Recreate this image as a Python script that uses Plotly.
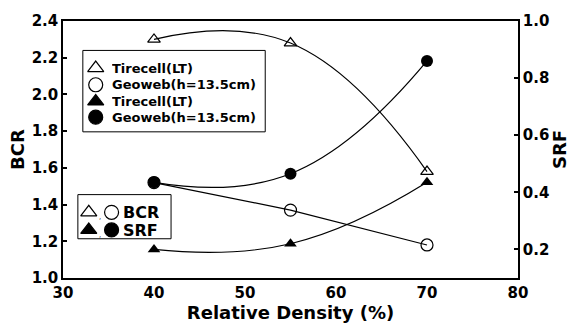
import plotly.graph_objects as go

density = [40, 55, 70]
bcr_tirecell = [2.30, 2.28, 1.58]
bcr_geoweb = [1.52, 1.37, 1.18]
srf_tirecell = [0.20, 0.22, 0.435]
srf_geoweb = [0.435, 0.465, 0.86]

x_ticks = [30, 40, 50, 60, 70, 80]
bcr_ticks = [1.0, 1.2, 1.4, 1.6, 1.8, 2.0, 2.2, 2.4]
srf_ticks = [0.2, 0.4, 0.6, 0.8, 1.0]

legend1_names = ["Tirecell(LT)", "Geoweb(h=13.5cm)", "Tirecell(LT)", "Geoweb(h=13.5cm)"]
legend1_symbols = ["triangle-up-open", "circle-open", "triangle-up", "circle"]
legend2_names = ["BCR", "SRF"]
legend2_symbols = [["triangle-up-open", "circle-open"], ["triangle-up", "circle"]]

FONT = "DejaVu Sans"
K = "black"
fig = go.Figure()

# curves
fig.add_trace(go.Scatter(x=density, y=bcr_tirecell, mode="lines", line=dict(color=K, width=1.2, shape="spline", smoothing=1.3), showlegend=False, hoverinfo="skip"))
fig.add_trace(go.Scatter(x=density, y=bcr_geoweb, mode="lines", line=dict(color=K, width=1.2), showlegend=False, hoverinfo="skip"))
fig.add_trace(go.Scatter(x=density, y=srf_tirecell, mode="lines", yaxis="y2", line=dict(color=K, width=1.2, shape="spline", smoothing=1.3), showlegend=False, hoverinfo="skip"))
fig.add_trace(go.Scatter(x=density, y=srf_geoweb, mode="lines", yaxis="y2", line=dict(color=K, width=1.2, shape="spline", smoothing=1.3), showlegend=False, hoverinfo="skip"))

# markers
fig.add_trace(go.Scatter(x=density, y=bcr_tirecell, mode="markers", showlegend=False,
                         marker=dict(symbol="triangle-up-open", size=11, color=K, line=dict(width=1.2))))
fig.add_trace(go.Scatter(x=density, y=bcr_geoweb, mode="markers", showlegend=False,
                         marker=dict(symbol="circle-open", size=12, color=K, line=dict(width=1.2))))
fig.add_trace(go.Scatter(x=density, y=srf_tirecell, mode="markers", yaxis="y2", showlegend=False,
                         marker=dict(symbol="triangle-up", size=11, color=K)))
fig.add_trace(go.Scatter(x=density, y=srf_geoweb, mode="markers", yaxis="y2", showlegend=False,
                         marker=dict(symbol="circle", size=12, color=K)))

# ---- keys drawn on an overlay axis measured in pixels ----
L, R, T, B = 63, 522, 16, 278
W, H = 578, 334

# key 1
k1_box = (83, 267, 46, 129)
k1_rows = [64, 81, 98, 114]
fig.add_shape(type="rect", xref="x2", yref="y3", x0=k1_box[0], x1=k1_box[1], y0=k1_box[2], y1=k1_box[3],
              line=dict(color=K, width=1), fillcolor="white", layer="below")
for name, sym, yy in zip(legend1_names, legend1_symbols, k1_rows):
    fig.add_trace(go.Scatter(x=[96], y=[yy], xaxis="x2", yaxis="y3", mode="markers", showlegend=False,
                             hoverinfo="skip",
                             marker=dict(symbol=sym, size=14, color=K, opacity=1, line=dict(width=1.2, color=K))))
    fig.add_annotation(xref="x2", yref="y3", x=110, y=yy, xanchor="left", yanchor="middle", text=name,
                       showarrow=False, height=15, font=dict(family=FONT, size=13, color=K, weight="bold"))

# key 2
k2_box = (78, 172, 193, 238)
k2_rows = [211, 229]
fig.add_shape(type="rect", xref="x2", yref="y3", x0=k2_box[0], x1=k2_box[1], y0=k2_box[2], y1=k2_box[3],
              line=dict(color=K, width=1), fillcolor="white", layer="below")
for name, syms, yy in zip(legend2_names, legend2_symbols, k2_rows):
    fig.add_trace(go.Scatter(x=[89, 112], y=[yy, yy], xaxis="x2", yaxis="y3", mode="markers", showlegend=False,
                             hoverinfo="skip",
                             marker=dict(symbol=syms, size=14, color=K, opacity=1, line=dict(width=1.2, color=K))))
    fig.add_annotation(xref="x2", yref="y3", x=100, y=yy + 5, xanchor="center", yanchor="middle", text=",",
                       showarrow=False, height=8, font=dict(family=FONT, size=7, color=K))
    fig.add_annotation(xref="x2", yref="y3", x=123, y=yy, xanchor="left", yanchor="middle", text=name,
                       showarrow=False, height=16, borderpad=0,
                       font=dict(family=FONT, size=16, color=K, weight="bold"))

tick_font = dict(family=FONT, size=15, color=K, weight="bold")
title_font = dict(family=FONT, size=18, color=K, weight="bold")

def bold(vals):
    return ["<b>%s</b>" % (("%d" % v) if isinstance(v, int) else ("%.1f" % v)) for v in vals]

fig.update_layout(
    width=W, height=H,
    margin=dict(l=L, r=W - R, t=T, b=H - B, pad=0),
    plot_bgcolor="white", paper_bgcolor="white",
    font=dict(family=FONT, color=K),
    xaxis=dict(range=[30, 80], tickvals=x_ticks, ticktext=bold(x_ticks), showgrid=False, zeroline=False,
               showline=True, linecolor=K, linewidth=1.5, mirror=True, ticks="",
               tickfont=tick_font, title=dict(text="Relative Density (%)", font=title_font, standoff=4)),
    yaxis=dict(range=[1.0, 2.4], tickvals=bcr_ticks, ticktext=bold(bcr_ticks), showgrid=False, zeroline=False,
               showline=True, linecolor=K, linewidth=1.5,
               ticks="inside", ticklen=4, tickwidth=1.5, tickcolor=K,
               tickfont=tick_font, title=dict(text="BCR", font=title_font, standoff=2)),
    yaxis2=dict(range=[0.1, 1.0], tickvals=srf_ticks, ticktext=bold(srf_ticks),
                overlaying="y", side="right", showgrid=False, zeroline=False,
                showline=True, linecolor=K, linewidth=1.5,
                ticks="inside", ticklen=4, tickwidth=1.5, tickcolor=K,
                tickfont=tick_font, title=dict(text="SRF", font=title_font, standoff=4)),
    xaxis2=dict(overlaying="x", range=[L, R], visible=False, fixedrange=True),
    yaxis3=dict(overlaying="y", range=[B, T], visible=False, fixedrange=True),
    showlegend=False,
)

fig.write_html("out.html")
